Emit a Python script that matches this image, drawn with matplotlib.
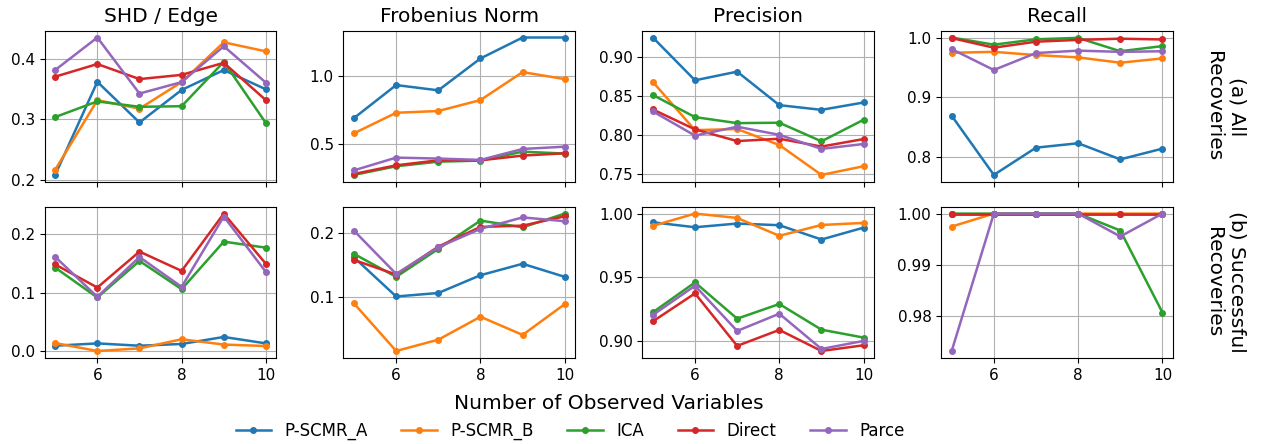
import matplotlib
matplotlib.use("Agg")
import matplotlib.pyplot as plt

x_vals = [5, 6, 7, 8, 9, 10]
methods = ["P-SCMR_A", "P-SCMR_B", "ICA", "Direct", "Parce"]
colors = ["#1f77b4", "#ff7f0e", "#2ca02c", "#d62728", "#9467bd"]
metric_titles = ["SHD / Edge", "Frobenius Norm", "Precision", "Recall"]
row_labels = ["(a) All\nRecoveries", "(b) Successful\nRecoveries"]

# Row (a): All recoveries
shd_all = {
    "P-SCMR_A": [0.208, 0.3625, 0.295, 0.349, 0.382, 0.350],
    "P-SCMR_B": [0.2165, 0.332, 0.318, 0.362, 0.428, 0.413],
    "ICA":      [0.304, 0.330, 0.321, 0.322, 0.3956, 0.294],
    "Direct":   [0.371, 0.392, 0.367, 0.374, 0.394, 0.332],
    "Parce":    [0.382, 0.436, 0.343, 0.362, 0.4215, 0.361],
}
frob_all = {
    "P-SCMR_A": [0.692, 0.936, 0.897, 1.133, 1.288, 1.288],
    "P-SCMR_B": [0.579, 0.731, 0.744, 0.825, 1.032, 0.980],
    "ICA":      [0.271, 0.335, 0.369, 0.377, 0.443, 0.429],
    "Direct":   [0.278, 0.342, 0.379, 0.379, 0.414, 0.431],
    "Parce":    [0.305, 0.399, 0.392, 0.382, 0.463, 0.480],
}
prec_all = {
    "P-SCMR_A": [0.9246, 0.8698, 0.8809, 0.838, 0.832, 0.8414],
    "P-SCMR_B": [0.8677, 0.806, 0.8074, 0.787, 0.7487, 0.7598],
    "ICA":      [0.851, 0.8227, 0.815, 0.8155, 0.7917, 0.8193],
    "Direct":   [0.8325, 0.807, 0.792, 0.795, 0.785, 0.7946],
    "Parce":    [0.830, 0.799, 0.8104, 0.800, 0.782, 0.7883],
}
rec_all = {
    "P-SCMR_A": [0.869, 0.770, 0.8156, 0.823, 0.796, 0.814],
    "P-SCMR_B": [0.9744, 0.976, 0.9706, 0.9667, 0.9578, 0.965],
    "ICA":      [1.0, 0.988, 0.997, 0.9994, 0.977, 0.9856],
    "Direct":   [0.999, 0.983, 0.993, 0.996, 0.998, 0.9967],
    "Parce":    [0.9806, 0.9456, 0.974, 0.978, 0.976, 0.977],
}

# Row (b): Successful recoveries
shd_succ = {
    "P-SCMR_A": [0.009, 0.013, 0.009, 0.012, 0.024, 0.013],
    "P-SCMR_B": [0.0136, 0.0, 0.0045, 0.020, 0.011, 0.0085],
    "ICA":      [0.1426, 0.0915, 0.154, 0.1057, 0.187, 0.1767],
    "Direct":   [0.148, 0.1085, 0.170, 0.137, 0.235, 0.149],
    "Parce":    [0.161, 0.0926, 0.1607, 0.1097, 0.230, 0.135],
}
frob_succ = {
    "P-SCMR_A": [0.162, 0.1005, 0.106, 0.134, 0.152, 0.1314],
    "P-SCMR_B": [0.0895, 0.0147, 0.0325, 0.0686, 0.040, 0.0885],
    "ICA":      [0.1675, 0.1314, 0.1754, 0.220, 0.2094, 0.231],
    "Direct":   [0.158, 0.135, 0.179, 0.210, 0.212, 0.2267],
    "Parce":    [0.204, 0.136, 0.178, 0.207, 0.225, 0.219],
}
prec_succ = {
    "P-SCMR_A": [0.9932, 0.9893, 0.9922, 0.9909, 0.9797, 0.989],
    "P-SCMR_B": [0.9904, 1.0, 0.9966, 0.9826, 0.9911, 0.9927],
    "ICA":      [0.9227, 0.9461, 0.9177, 0.9292, 0.9091, 0.9029],
    "Direct":   [0.9156, 0.9375, 0.8964, 0.9089, 0.8924, 0.8969],
    "Parce":    [0.9206, 0.9435, 0.9081, 0.9216, 0.894, 0.9003],
}
rec_succ = {
    "P-SCMR_A": [1.0, 1.0, 1.0, 1.0, 1.0, 1.0],
    "P-SCMR_B": [0.99748, 1.0, 1.0, 1.0, 1.0, 1.0],
    "ICA":      [1.0, 1.0, 1.0, 1.0, 0.99671, 0.98077],
    "Direct":   [1.0, 1.0, 1.0, 1.0, 1.0, 1.0],
    "Parce":    [0.97329, 1.0, 1.0, 1.0, 0.99555, 1.0],
}

rows = [[shd_all, frob_all, prec_all, rec_all],
        [shd_succ, frob_succ, prec_succ, rec_succ]]

plt.rcParams['font.family'] = ['DejaVu Sans']
fig, axes = plt.subplots(2, 4, figsize=(12.61, 4.44), dpi=100, sharex=True)
fig.subplots_adjust(left=0.0354, right=0.9302, top=0.931, bottom=0.194,
                    wspace=0.289, hspace=0.165)

for r in range(2):
    for c in range(4):
        ax = axes[r, c]
        data = rows[r][c]
        for m, col in zip(methods, colors):
            ax.plot(x_vals, data[m], marker='o', markersize=4, lw=1.8,
                    color=col, label=m)
        ax.grid(True, color='#b0b0b0', lw=0.8)
        ax.set_xticks([6, 8, 10])
        ax.tick_params(labelsize=11)
        if r == 0:
            ax.set_title(metric_titles[c], fontsize=14.5)
        if c == 3:
            ax.yaxis.set_label_position('right')
            ax.set_ylabel(row_labels[r], rotation=270, fontsize=14.5,
                          labelpad=22, va='bottom', linespacing=1.35)

axes[0, 2].set_yticks([0.75, 0.80, 0.85, 0.90])
axes[0, 2].set_yticklabels(["0.75", "0.80", "0.85", "0.90"])
axes[1, 2].set_yticks([0.90, 0.95, 1.00])
axes[1, 2].set_yticklabels(["0.90", "0.95", "1.00"])
axes[1, 3].set_yticks([0.98, 0.99, 1.00])
axes[1, 3].set_yticklabels(["0.98", "0.99", "1.00"])

fig.text(0.483, 0.092, "Number of Observed Variables", ha='center',
         va='center', fontsize=14.5)
handles, labels = axes[0, 0].get_legend_handles_labels()
fig.legend(handles, labels, loc='center', bbox_to_anchor=(0.452, 0.029),
           ncol=5, frameon=False, fontsize=12, columnspacing=2.0,
           handlelength=2.15, handletextpad=0.8)

fig.savefig("out.png", dpi=100)
